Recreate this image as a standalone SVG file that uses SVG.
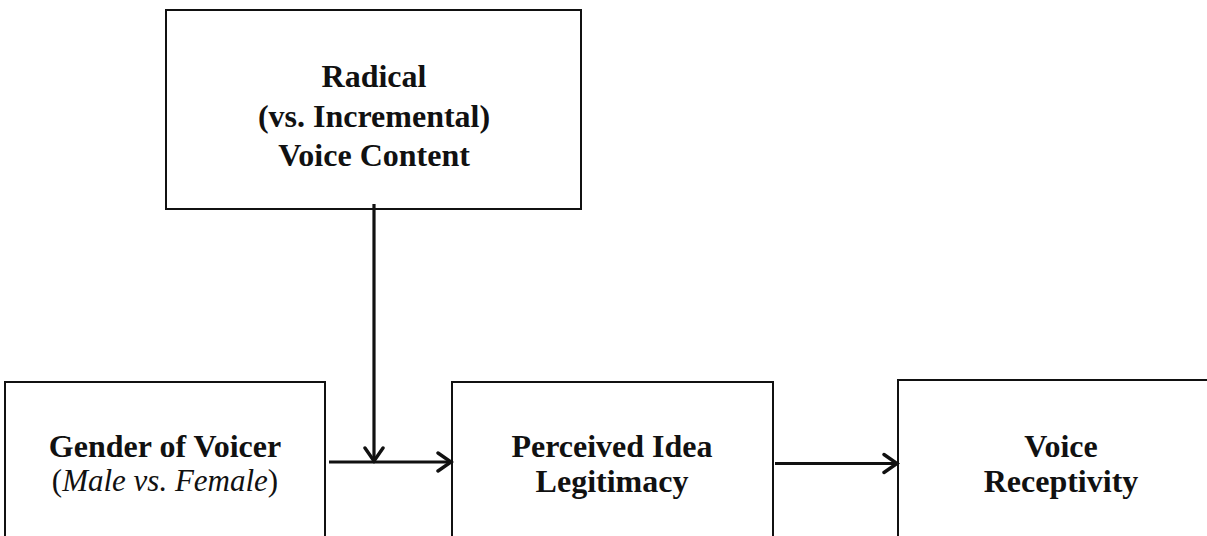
<svg xmlns="http://www.w3.org/2000/svg" width="1207" height="536" viewBox="0 0 1207 536">
  <style>
    .box { fill: #ffffff; stroke: #111111; stroke-width: 2; }
    .t { font-family: "Liberation Serif", "Times New Roman", serif; font-size: 32px; font-weight: bold; fill: #111111; text-anchor: middle; }
    .s { font-family: "Liberation Serif", "Times New Roman", serif; font-size: 31px; fill: #111111; text-anchor: middle; }
    .conn { stroke: #111111; stroke-width: 3.2; fill: none; marker-end: url(#arr); }
  </style>
  <defs>
    <marker id="arr" markerUnits="userSpaceOnUse" markerWidth="20" markerHeight="24" refX="15" refY="12" orient="auto" viewBox="0 0 20 24">
      <path d="M2,3 L15,12 L2,21" fill="none" stroke="#111111" stroke-width="3.4" stroke-linecap="round" stroke-linejoin="miter"/>
    </marker>
  </defs>
  <rect width="1207" height="536" fill="#ffffff"/>
  <g id="node-radical">
    <rect class="box" x="166" y="10" width="415" height="199"/>
    <text class="t" x="374" y="87">Radical</text>
    <text class="t" x="374" y="127">(vs. Incremental)</text>
    <text class="t" x="374" y="166">Voice Content</text>
  </g>
  <g id="node-gender">
    <rect class="box" x="5" y="382" width="320" height="170"/>
    <text class="t" x="165" y="457">Gender of Voicer</text>
    <text class="s" x="165" y="491">(<tspan font-style="italic">Male vs. Female</tspan>)</text>
  </g>
  <g id="node-legitimacy">
    <rect class="box" x="452" y="382" width="321" height="170"/>
    <text class="t" x="612" y="457">Perceived Idea</text>
    <text class="t" x="612" y="492">Legitimacy</text>
  </g>
  <g id="node-receptivity">
    <rect class="box" x="898" y="380" width="330" height="170"/>
    <text class="t" x="1061" y="457">Voice</text>
    <text class="t" x="1061" y="492">Receptivity</text>
  </g>
  <g id="connectors">
    <line class="conn" x1="374" y1="204" x2="374" y2="461"/>
    <line class="conn" x1="329" y1="462" x2="451" y2="462"/>
    <line class="conn" x1="775" y1="463.5" x2="897" y2="463.5"/>
  </g>
</svg>
